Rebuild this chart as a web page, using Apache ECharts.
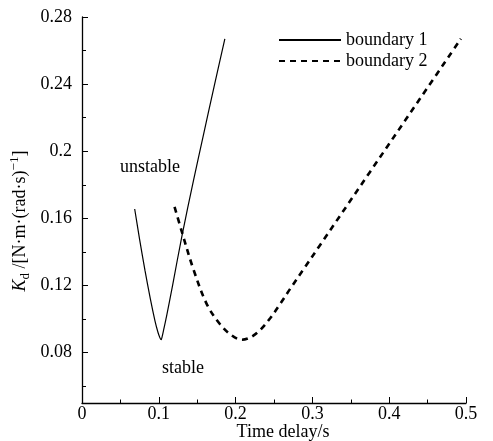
<!DOCTYPE html>
<html>
<head>
<meta charset="utf-8">
<script src="https://cdn.jsdelivr.net/npm/echarts@6/dist/echarts.min.js"></script>
<style>
  html, body { margin: 0; padding: 0; background: #fff; }
  #root { width: 493px; height: 441px; }
</style>
</head>
<body>
<div id="root"></div>
<script>
// 坐标刻度
var xTicks = [0, 0.1, 0.2, 0.3, 0.4, 0.5];
var yTicks = [0.08, 0.12, 0.16, 0.2, 0.24, 0.28];
var yMinorTicks = [0.06, 0.1, 0.14, 0.18, 0.22, 0.26];

// boundary 1
var b1x = [0.0686, 0.0750, 0.0820, 0.0890, 0.0950, 0.0990, 0.1015, 0.1030, 0.1045, 0.1065, 0.1100, 0.1179, 0.1301, 0.1452, 0.1580, 0.1720, 0.1860];
var b1y = [0.1656, 0.1475, 0.1290, 0.1120, 0.0990, 0.0920, 0.0888, 0.0877, 0.0898, 0.0940, 0.1015, 0.1200, 0.1495, 0.1827, 0.2095, 0.2385, 0.2670];

// boundary 2
var b2x = [0.1205, 0.1301, 0.1452, 0.1626, 0.1800, 0.1952, 0.2082, 0.2200, 0.2320, 0.2450, 0.2580, 0.2710, 0.2900, 0.3101, 0.3750, 0.4402, 0.4933];
var b2y = [0.1668, 0.1519, 0.1295, 0.1088, 0.0968, 0.0902, 0.0877, 0.0893, 0.0935, 0.1005, 0.1090, 0.1180, 0.1307, 0.1442, 0.1877, 0.2314, 0.2670];

var seriesNames = ['boundary 1', 'boundary 2'];

function pairs(xs, ys) {
  return xs.map(function(v, i) { return [v, ys[i]]; });
}

var serif = '"Liberation Serif", "Times New Roman", serif';

var option = {
  backgroundColor: '#fff',
  animation: false,
  textStyle: { fontFamily: serif, color: '#000' },
  grid: { left: 82, right: 27, top: 17, bottom: 38, outerBoundsMode: 'none' },
  legend: {
    data: seriesNames,
    orient: 'vertical',
    left: 273,
    top: 26,
    itemWidth: 62,
    itemHeight: 12,
    itemGap: 3,
    itemStyle: { opacity: 0 },
    textStyle: { fontFamily: serif, fontSize: 18, color: '#000' }
  },
  xAxis: {
    type: 'value',
    min: xTicks[0],
    max: xTicks[xTicks.length - 1],
    interval: 0.1,
    name: 'Time delay/s',
    nameLocation: 'middle',
    nameGap: 20,
    nameMoveOverlap: false,
    nameTextStyle: { fontFamily: serif, fontSize: 18, color: '#000', padding: [0, 0, 0, 18] },
    axisLine: { lineStyle: { color: '#000', width: 1.3 } },
    axisTick: { inside: true, length: 6, lineStyle: { color: '#000', width: 1 } },
    minorTick: { show: true, splitNumber: 2, length: 3.5, lineStyle: { color: '#000', width: 1 } },
    axisLabel: { fontFamily: serif, fontSize: 18, color: '#000', margin: 2 },
    splitLine: { show: false }
  },
  yAxis: [
    {
      type: 'value',
      min: 0.05,
      max: 0.28,
      name: '{k|K}{sub|d} /[N·m·(rad·s){sup|−1}]',
      nameLocation: 'middle',
      nameGap: 50,
      nameMoveOverlap: false,
      nameTextStyle: {
        fontFamily: serif, fontSize: 18, color: '#000', padding: [0, 22, 0, 0],
        rich: {
          k: { fontFamily: serif, fontSize: 18, fontStyle: 'italic', color: '#000', lineHeight: 24, verticalAlign: 'middle' },
          sub: { fontFamily: serif, fontSize: 13, color: '#000', lineHeight: 24, verticalAlign: 'bottom' },
          sup: { fontFamily: serif, fontSize: 13, color: '#000', lineHeight: 24, verticalAlign: 'top' }
        }
      },
      axisLine: { show: true, lineStyle: { color: '#000', width: 1.3 } },
      axisTick: { show: true, inside: true, length: 6, customValues: yTicks, lineStyle: { color: '#000', width: 1 } },
      axisLabel: { fontFamily: serif, fontSize: 18, color: '#000', margin: 10, customValues: yTicks },
      splitLine: { show: false }
    },
    {
      type: 'value',
      min: 0.05,
      max: 0.28,
      position: 'left',
      axisLine: { show: false },
      axisTick: { show: true, inside: true, length: 4, customValues: yMinorTicks, lineStyle: { color: '#000', width: 1 } },
      axisLabel: { show: false },
      splitLine: { show: false }
    }
  ],
  graphic: [
    { type: 'text', left: 120, top: 158, style: { text: 'unstable', font: '18px ' + serif, fill: '#000' } },
    { type: 'text', left: 162, top: 359, style: { text: 'stable', font: '18px ' + serif, fill: '#000' } }
  ],
  series: [
    {
      name: seriesNames[0],
      type: 'line',
      data: pairs(b1x, b1y),
      symbol: 'none',
      smooth: 0.3,
      lineStyle: { color: '#000', width: 1.2, type: 'solid' },
      itemStyle: { color: '#000' }
    },
    {
      name: seriesNames[1],
      type: 'line',
      data: pairs(b2x, b2y),
      symbol: 'none',
      smooth: 0.35,
      lineStyle: { color: '#000', width: 2.6, type: [6, 5] },
      itemStyle: { color: '#000' }
    }
  ]
};

var myChart = echarts.init(document.getElementById('root'));
myChart.setOption(option);
</script>
</body>
</html>
